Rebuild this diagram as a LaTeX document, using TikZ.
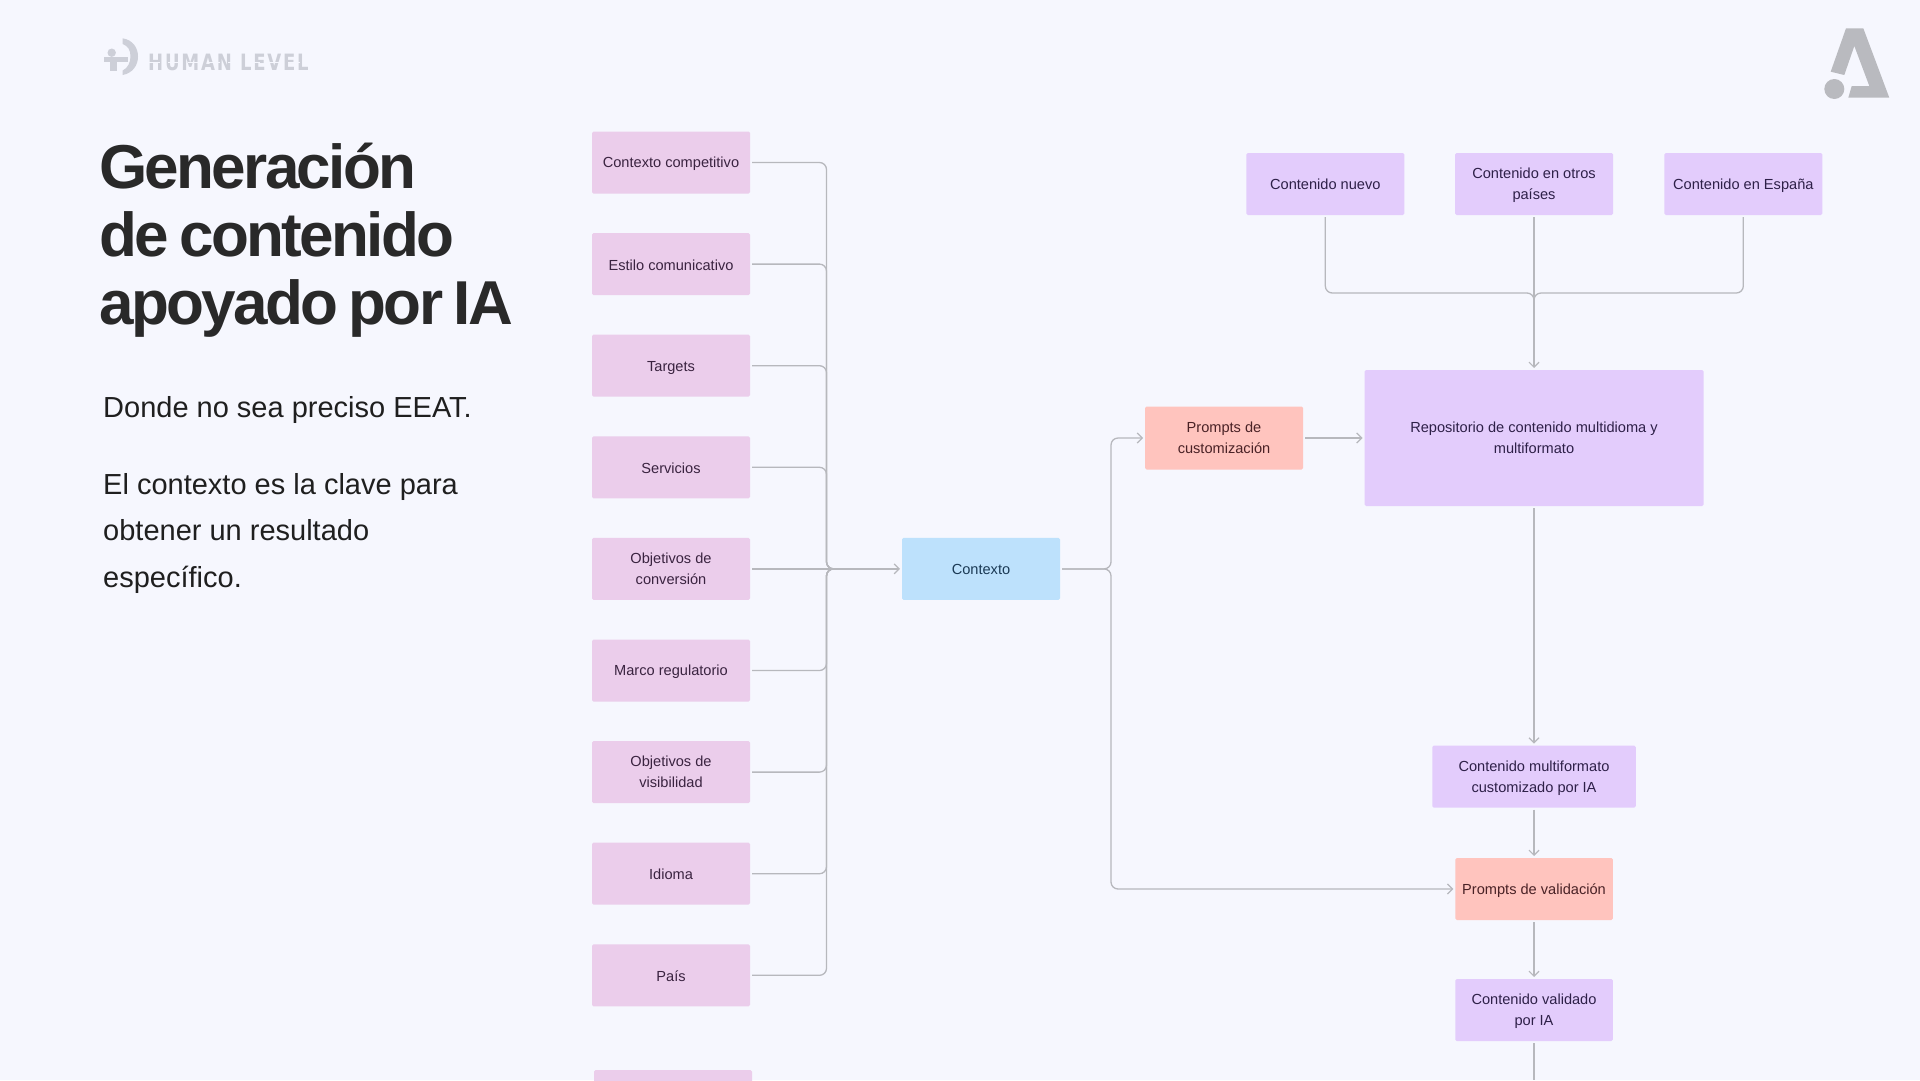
\documentclass[tikz,border=0pt]{standalone}
\usepackage{fontspec}
\setmainfont{Liberation Sans}
\newfontfamily\titlef[LetterSpace=-4.3,WordSpace=0.72]{Liberation Sans}
\newfontfamily\logof[LetterSpace=8,FakeStretch=0.8]{DejaVu Sans}
\usetikzlibrary{arrows.meta}
\definecolor{bgc}{HTML}{F6F7FE}
\definecolor{pinkb}{HTML}{EBCDEB}
\definecolor{blueb}{HTML}{BDE1FC}
\definecolor{violetb}{HTML}{E3CCFC}
\definecolor{salmonb}{HTML}{FFC4BE}
\definecolor{linec}{HTML}{B7B8BD}
\definecolor{logoc}{HTML}{CDCFD8}
\definecolor{logoa}{HTML}{B9BABF}
\definecolor{pinkt}{HTML}{3A2340}
\definecolor{bluet}{HTML}{1B3A55}
\definecolor{violett}{HTML}{2E2048}
\definecolor{salmont}{HTML}{4A2226}
\tikzset{
  boxbase/.style={rounded corners=1.5pt,inner sep=0pt,outer sep=0pt,align=center,
    font=\fontsize{14.6}{21}\selectfont,
    execute at begin node={\rule[-2.1pt]{0pt}{16.1pt}},
    execute at end node={\rule[-2.1pt]{0pt}{16.1pt}}},
  twoline/.style={execute at begin node={\rule[-3pt]{0pt}{37.2pt}}},
  pinkbox/.style={boxbase,fill=pinkb,text=pinkt,minimum width=158pt,minimum height=62pt},
  bluebox/.style={boxbase,fill=blueb,text=bluet,minimum width=158pt,minimum height=62pt},
  violetbox/.style={boxbase,fill=violetb,text=violett},
  salmonbox/.style={boxbase,fill=salmonb,text=salmont},
  conn/.style={draw=linec,line width=1.3pt,rounded corners=7pt,shorten <=2pt},
  arr/.style={conn,-{Straight Barb[length=5pt,width=10pt,line width=1.2pt]},shorten >=2pt},
  bodytext/.style={inner sep=0pt,anchor=north west,align=left,text=black!88,font=\fontsize{29}{46.7}\selectfont},
}
\begin{document}
\begin{tikzpicture}[x=1pt,y=-1pt]
\useasboundingbox (0,0) rectangle (1920,1080);
\fill[bgc] (0,0) rectangle (1920,1080);

% logo Human Level
\fill[logoc] (111.7,52.7) circle (4.2);
\fill[logoc] (104,57) rectangle (127.5,62);
\fill[logoc] (110,62) rectangle (117,71);
\fill[logoc] (122.7,38.3) .. controls (133,40) and (138,48) .. (138,56.5) .. controls (138,65) and (133,73) .. (122.7,75) -- (122.7,70.5) .. controls (128,68) and (130.5,62) .. (130.5,56.5) .. controls (130.5,50) and (128,46) .. (122.7,44) -- cycle;
\node[anchor=base west,inner sep=0pt,text=logoc,font=\logof\bfseries\fontsize{22.5}{22.5}\selectfont] (hl) at (148,70.7) {HUMAN LEVEL};
\draw[bgc,line width=1pt,dash pattern=on 12pt off 8pt] (148,62.5) -- (312,62.5);

% logo A
\fill[logoa] (1846,28.3) -- (1863.3,28.3) -- (1889.3,97.7) -- (1848.3,97.7) -- (1851.7,86) -- (1869.3,86) -- (1854.3,46) -- (1844.3,75) -- (1830.7,71.7) -- cycle;
\fill[logoa] (1834.3,89) circle (10);

% text
\node[inner sep=0pt,anchor=north west,align=left,text=black!84,font=\titlef\bfseries\fontsize{62}{68}\selectfont] (title) at (99,142.5) {Generación\\de contenido\\apoyado por IA};
\node[bodytext] (b1) at (103,396.5) {Donde no sea preciso EEAT.};
\node[bodytext] (b2) at (103,473) {El contexto es la clave para\\obtener un resultado\\específico.};

% left column
\node[pinkbox] (n1) at (671,162.5) {Contexto competitivo};
\node[pinkbox] (n2) at (671,264.1) {Estilo comunicativo};
\node[pinkbox] (n3) at (671,365.7) {Targets};
\node[pinkbox] (n4) at (671,467.3) {Servicios};
\node[pinkbox,twoline] (n5) at (671,568.9) {Objetivos de\\conversión};
\node[pinkbox] (n6) at (671,670.5) {Marco regulatorio};
\node[pinkbox,twoline] (n7) at (671,772.1) {Objetivos de\\visibilidad};
\node[pinkbox] (n8) at (671,873.7) {Idioma};
\node[pinkbox] (n9) at (671,975.3) {País};
\node[pinkbox] (n10) at (673,1101) {};

\node[bluebox] (ctx) at (981,568.9) {Contexto};

% right
\node[violetbox,minimum width=158pt,minimum height=62pt] (t1) at (1325.3,184) {Contenido nuevo};
\node[violetbox,twoline,minimum width=158pt,minimum height=62pt] (t2) at (1534,184) {Contenido en otros\\países};
\node[violetbox,minimum width=158pt,minimum height=62pt] (t3) at (1743.3,184) {Contenido en España};
\node[violetbox,twoline,minimum width=339pt,minimum height=136pt] (repo) at (1534,438) {Repositorio de contenido multidioma y\\multiformato};
\node[salmonbox,twoline,minimum width=158pt,minimum height=63pt] (pc) at (1224,438) {Prompts de\\customización};
\node[violetbox,twoline,minimum width=203.5pt,minimum height=62pt] (mf) at (1534,776.6) {Contenido multiformato\\customizado por IA};
\node[salmonbox,minimum width=157.5pt,minimum height=62pt] (pv) at (1534,889) {Prompts de validación};
\node[violetbox,twoline,minimum width=157.5pt,minimum height=62pt] (cv) at (1534,1010) {Contenido validado\\por IA};

\coordinate (busL) at (826.5,568.9);
\coordinate (busR) at (1111,568.9);
\coordinate (busT) at (1534,293);
\coordinate (exitv) at (1534,1080);

\foreach \n in {n1,n2,n3,n4,n6,n7,n8,n9}
  \draw[conn] (\n.east) -| (busL) -- ++(10,0);
\draw[arr] (n5.east) -- (ctx.west);

\draw[arr] (ctx.east) -- (busR) |- (pc.west);
\draw[arr] (ctx.east) -- (busR) |- (pv.west);

\draw[conn] (t1.south) |- (busT) -- ++(0,10);
\draw[conn] (t3.south) |- (busT) -- ++(0,10);
\draw[arr] (t2.south) -- (repo.north);

\draw[arr] (pc.east) -- (repo.west);
\draw[arr] (repo.south) -- (mf.north);
\draw[arr] (mf.south) -- (pv.north);
\draw[arr] (pv.south) -- (cv.north);
\draw[conn,rounded corners=0pt] (cv.south) -- (exitv);
\end{tikzpicture}
\end{document}
